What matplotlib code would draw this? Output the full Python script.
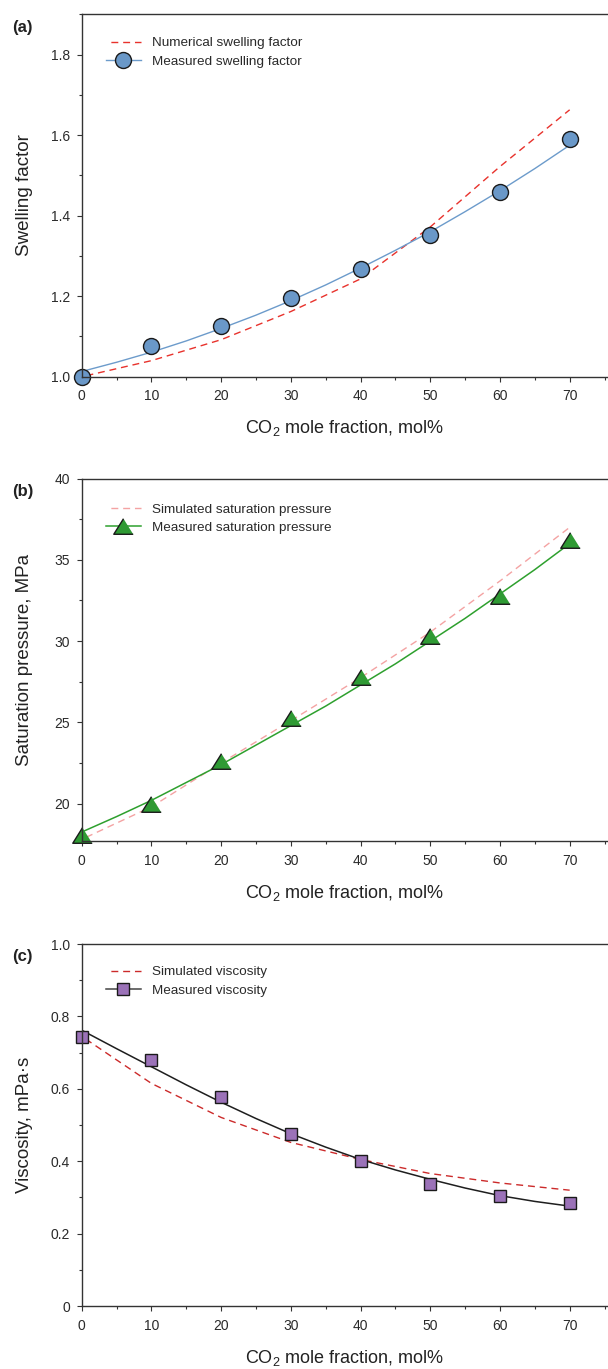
import numpy as np
import matplotlib.pyplot as plt
from matplotlib.ticker import MultipleLocator

plt.rcParams['font.family'] = 'Liberation Sans'
plt.rcParams['mathtext.fontset'] = 'custom'
plt.rcParams['mathtext.rm'] = 'Liberation Sans'

# CO2 mole fraction, mol%
x = [0, 10, 20, 30, 40, 50, 60, 70]
x_fit = [0, 5, 10, 15, 20, 25, 30, 35, 40, 45, 50, 55, 60, 65, 70]

# (a) swelling factor
swell_meas = [1.000, 1.077, 1.125, 1.195, 1.267, 1.352, 1.459, 1.590]
swell_fit = [1.013, 1.036, 1.061, 1.089, 1.120, 1.153, 1.189, 1.228,
             1.270, 1.314, 1.360, 1.410, 1.462, 1.517, 1.575]
swell_num = [1.000, 1.040, 1.092, 1.162, 1.243, 1.372, 1.522, 1.663]

# (b) saturation pressure, MPa
psat_meas = [18.05, 20.0, 22.65, 25.25, 27.8, 30.3, 32.75, 36.25]
psat_fit = [18.25, 19.2, 20.2, 21.3, 22.4, 23.6, 24.8, 26.0,
            27.3, 28.6, 30.0, 31.4, 32.9, 34.4, 36.0]
psat_sim = [17.8, 19.8, 22.5, 25.1, 27.75, 30.55, 33.7, 37.0]

# (c) viscosity, mPa.s
visc_meas = [0.744, 0.681, 0.578, 0.475, 0.401, 0.337, 0.305, 0.286]
visc_fit = [0.762, 0.711, 0.661, 0.611, 0.563, 0.518, 0.476, 0.439,
            0.405, 0.376, 0.350, 0.326, 0.305, 0.289, 0.276]
visc_sim = [0.745, 0.615, 0.521, 0.452, 0.405, 0.366, 0.340, 0.320]

xlabel = r'CO$_\mathregular{2}$ mole fraction, mol%'
axcol = '#333333'

fig = plt.figure(figsize=(6.08, 13.69), dpi=100)


def style(ax, ylim, ymajor, yminor, ylabel, tag):
    ax.set_xlim(0, 75.5)
    ax.set_ylim(*ylim)
    ax.spines['right'].set_visible(False)
    for s in ['top', 'left', 'bottom']:
        ax.spines[s].set_color(axcol)
        ax.spines[s].set_linewidth(1.0)
    ax.xaxis.set_major_locator(MultipleLocator(10))
    ax.xaxis.set_minor_locator(MultipleLocator(5))
    ax.yaxis.set_major_locator(MultipleLocator(ymajor))
    ax.yaxis.set_minor_locator(MultipleLocator(yminor))
    ax.tick_params(which='major', direction='out', length=3.6, width=0.8,
                   color=axcol, labelsize=10, labelcolor='#2a2a2a')
    ax.tick_params(which='minor', direction='out', length=2.0, width=0.8, color=axcol)
    ax.tick_params(axis='x', pad=5.5)
    ax.tick_params(axis='y', pad=5)
    ax.set_xlabel(xlabel, fontsize=13, color='#222222')
    ax.xaxis.set_label_coords(0.5, -0.115)
    ax.set_ylabel(ylabel, fontsize=13.5, color='#222222')
    ax.yaxis.set_label_coords(-0.092, 0.5)
    ax.text(-0.112, 0.985, tag, transform=ax.transAxes, fontsize=12,
            fontweight='bold', ha='center', va='top', color='#222222')


leg_kw = dict(loc='upper left', bbox_to_anchor=(0.046, 0.9375), frameon=False,
              fontsize=9.7, handlelength=2.6, handletextpad=0.85,
              labelspacing=0.45, borderpad=0, borderaxespad=0, labelcolor='#2a2a2a')

# (a)
ax1 = fig.add_axes([0.1344, 0.7248, 0.8656, 0.2647])
ax1.plot(x, swell_num, color='#E8322C', lw=1.0, ls=(5, (5, 3.5)),
         label='Numerical swelling factor')
ax1.plot(x_fit, swell_fit, color='#6C9BCB', lw=1.0)
ax1.plot(x, swell_meas, ls='none', marker='o', ms=11.5, mfc='#6A98C8',
         mec='#1A1A1A', mew=1.0, clip_on=False, zorder=2)
ax1.plot([], [], color='#6C9BCB', lw=1.0, marker='o', ms=11.5,
         mfc='#6A98C8', mec='#1A1A1A', mew=1.0, label='Measured swelling factor')
style(ax1, (1.0, 1.9), 0.2, 0.1, 'Swelling factor', '(a)')
ax1.set_yticks([1.0, 1.2, 1.4, 1.6, 1.8])
ax1.set_yticklabels(['1.0', '1.2', '1.4', '1.6', '1.8'])
ax1.legend(**leg_kw)

# (b)
tri = [(0, 1), (-1.25, -1), (1.25, -1)]
ax2 = fig.add_axes([0.1344, 0.3857, 0.8656, 0.2647])
ax2.plot(x, psat_sim, color='#F4A3A3', lw=1.0, ls=(5, (5, 3.5)),
         label='Simulated saturation pressure')
ax2.plot(x_fit, psat_fit, color='#2EA02E', lw=1.1)
ax2.plot(x, psat_meas, ls='none', marker=tri, ms=14, mfc='#2F9A34',
         mec='#1A1A1A', mew=1.0, clip_on=False, zorder=2)
ax2.plot([], [], color='#2EA02E', lw=1.1, marker=tri, ms=14, mfc='#2F9A34',
         mec='#1A1A1A', mew=1.0, label='Measured saturation pressure')
style(ax2, (17.7, 40), 5, 2.5, 'Saturation pressure, MPa', '(b)')
leg_b = dict(leg_kw)
leg_b['bbox_to_anchor'] = (0.046, 0.932)
ax2.legend(**leg_b)

# (c)
ax3 = fig.add_axes([0.1344, 0.0460, 0.8656, 0.2644])
ax3.plot(x, visc_sim, color='#CC2A2A', lw=1.0, ls=(5, (5, 3.5)),
         label='Simulated viscosity')
ax3.plot(x_fit, visc_fit, color='#1E1E1E', lw=1.1)
ax3.plot(x, visc_meas, ls='none', marker='s', ms=9.2, mfc='#9B72B8',
         mec='#1A1A1A', mew=1.0, clip_on=False, zorder=2)
ax3.plot([], [], color='#444444', lw=1.1, marker='s', ms=9.2, mfc='#9B72B8',
         mec='#1A1A1A', mew=1.0, label='Measured viscosity')
style(ax3, (0, 1.0), 0.2, 0.1, 'Viscosity, mPa\u00b7s', '(c)')
ax3.set_yticks([0, 0.2, 0.4, 0.6, 0.8, 1.0])
ax3.set_yticklabels(['0', '0.2', '0.4', '0.6', '0.8', '1.0'])
leg_c = dict(leg_kw)
leg_c['bbox_to_anchor'] = (0.046, 0.9395)
ax3.legend(**leg_c)

fig.savefig('out.png', dpi=100)
